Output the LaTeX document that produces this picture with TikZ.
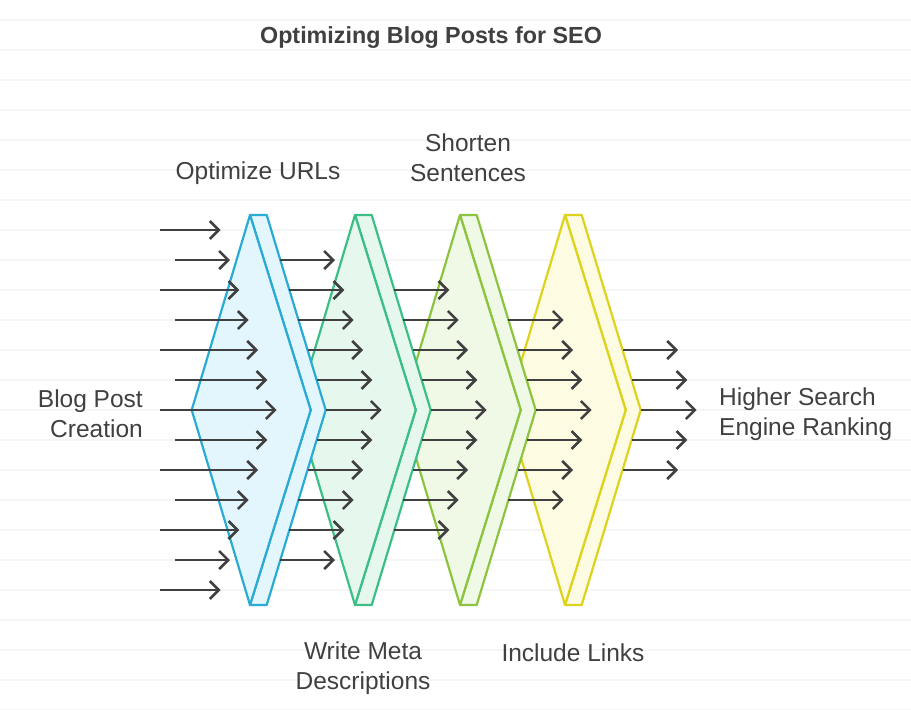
\documentclass[tikz,border=0pt]{standalone}
\usepackage{fontspec}
\setmainfont{Liberation Sans}
\usetikzlibrary{arrows.meta}
\definecolor{ink}{HTML}{404040}
\definecolor{rulegray}{HTML}{F5F5F5}
\definecolor{blueline}{HTML}{29ABD4}
\definecolor{bluefill}{HTML}{E4F6FD}
\definecolor{greenline}{HTML}{3CBF87}
\definecolor{greenfill}{HTML}{E6F7EE}
\definecolor{limeline}{HTML}{8CC43F}
\definecolor{limefill}{HTML}{F0F8E6}
\definecolor{yellowline}{HTML}{DDD31C}
\definecolor{yellowfill}{HTML}{FDFCE3}
% one stage: top x, stroke colour, fill colour
\newcommand{\seostage}[3]{%
  \draw[stagebox,draw=#2,fill=#3] (#1,215) -- (#1+16.7,215) -- (#1+75.7,410) -- (#1+16.7,605) -- (#1,605) -- (#1+60.7,410) -- cycle;
  \draw[stagebox,draw=#2,fill=#3] (#1,215) -- (#1+60.7,410) -- (#1,605) -- (#1-58.3,410) -- cycle;}

\begin{document}
\begin{tikzpicture}[x=1pt,y=-1pt,line join=round,
  stagebox/.style={line width=2.2pt},
  flow/.style={ink,line width=2.6pt,-{Straight Barb[length=9pt,width=18pt,line width=2.6pt]}},
  lbl/.style={text=ink,font=\fontsize{24.5}{30}\selectfont,align=center,inner sep=0pt}]
\useasboundingbox (0,0) rectangle (911,710);
% --- faint ruled background
\foreach \k in {0,...,23} {\draw[rulegray,line width=1.2pt] (0,20+30*\k) -- (911,20+30*\k);}
% --- stages, back to front
\seostage{565}{yellowline}{yellowfill}
\seostage{460}{limeline}{limefill}
\seostage{355}{greenline}{greenfill}
\seostage{250}{blueline}{bluefill}
% --- incoming arrows
\foreach \d in {-6,-4,...,6} {\draw[flow] (160,410+30*\d) -- ({276.7-9.34*abs(\d)},410+30*\d);}
\foreach \d in {-5,-3,...,5} {\draw[flow] (175,410+30*\d) -- ({276.7-9.34*abs(\d)},410+30*\d);}
% --- arrows leaving each stage
\foreach \t/\m in {250/5,355/4,460/3,565/2} {
  \foreach \d in {-\m,...,\m} {\draw[flow] ({\t+75.7-9.08*abs(\d)},410+30*\d) -- ({\t+131.7-9.34*abs(\d)},410+30*\d);}
}
% --- labels
\node[lbl,font=\bfseries\fontsize{23.3}{30}\selectfont] (title) at (431,38) {Optimizing Blog Posts for SEO};
\node[lbl] (urls) at (258,173) {Optimize URLs};
\node[lbl] (shorten) at (468,158) {Shorten\\Sentences};
\node[lbl] (meta) at (363,668) {Write Meta\\Descriptions};
\node[lbl] (links) at (573,653) {Include Links};
\node[lbl,align=right,anchor=east] (start) at (143,414) {Blog Post\\Creation};
\node[lbl,align=left,anchor=west] (goal) at (719,414) {Higher Search\\Engine Ranking};
\end{tikzpicture}
\end{document}
